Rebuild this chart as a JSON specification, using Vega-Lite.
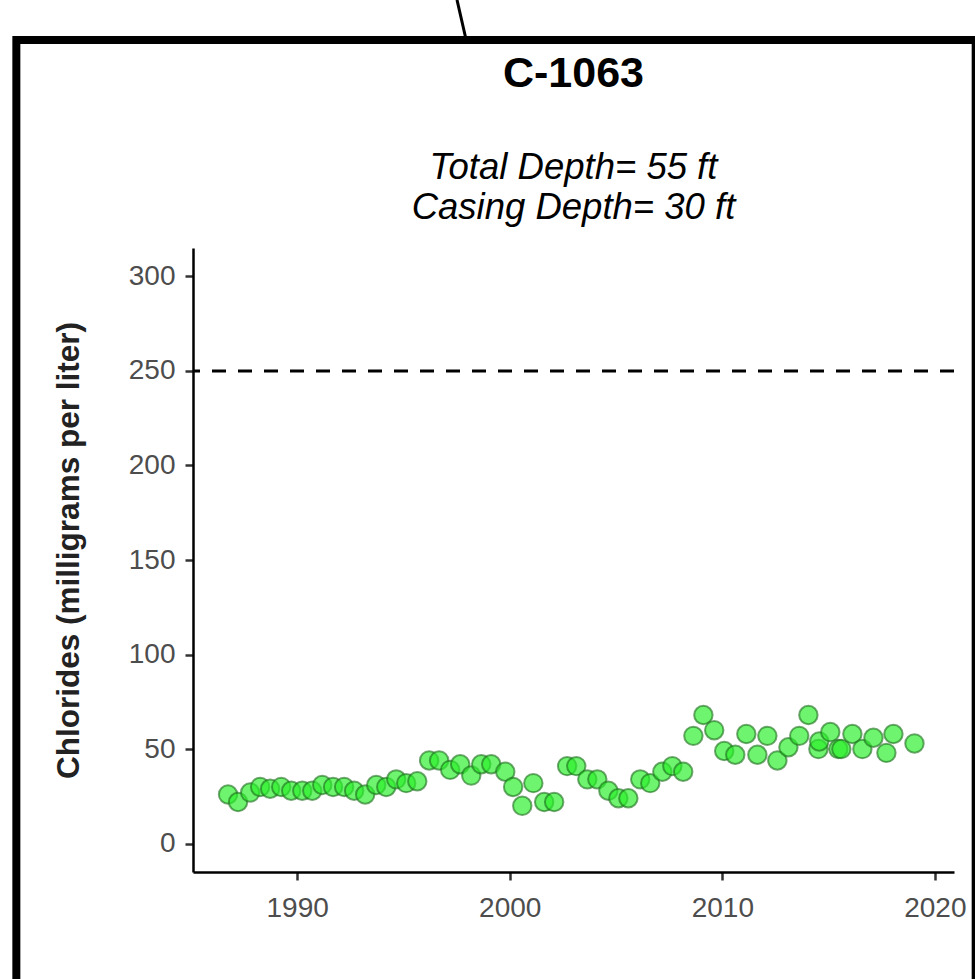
{
  "$schema": "https://vega.github.io/schema/vega-lite/v6.json",
  "width": 761,
  "height": 624,
  "autosize": {"type": "none"},
  "padding": {"left": 193, "top": 248, "right": 21, "bottom": 107},
  "background": "white",
  "config": {"view": {"stroke": null}, "font": "Liberation Sans"},
  "title": {
    "text": "C-1063",
    "subtitle": ["Total Depth= 55 ft", "Casing Depth= 30 ft"],
    "anchor": "middle",
    "frame": "group",
    "font": "Liberation Sans",
    "fontSize": 43,
    "fontWeight": "bold",
    "color": "black",
    "subtitleFont": "Liberation Sans",
    "subtitleFontSize": 36.5,
    "subtitleFontStyle": "italic",
    "subtitleColor": "black",
    "subtitleLineHeight": 40,
    "subtitlePadding": 54,
    "offset": -228
  },
  "datasets": {
    "samples": [
      {"year": 1986.75, "chloride": 26}, {"year": 1987.22, "chloride": 22}, {"year": 1987.79, "chloride": 27},
      {"year": 1988.26, "chloride": 30}, {"year": 1988.73, "chloride": 29}, {"year": 1989.25, "chloride": 30},
      {"year": 1989.72, "chloride": 28}, {"year": 1990.24, "chloride": 28}, {"year": 1990.71, "chloride": 28},
      {"year": 1991.18, "chloride": 31}, {"year": 1991.69, "chloride": 30}, {"year": 1992.21, "chloride": 30},
      {"year": 1992.68, "chloride": 28}, {"year": 1993.2, "chloride": 26}, {"year": 1993.72, "chloride": 31},
      {"year": 1994.19, "chloride": 30}, {"year": 1994.66, "chloride": 34}, {"year": 1995.13, "chloride": 32},
      {"year": 1995.65, "chloride": 33}, {"year": 1996.21, "chloride": 44}, {"year": 1996.68, "chloride": 44},
      {"year": 1997.2, "chloride": 39}, {"year": 1997.67, "chloride": 42}, {"year": 1998.19, "chloride": 36},
      {"year": 1998.66, "chloride": 42}, {"year": 1999.13, "chloride": 42}, {"year": 1999.79, "chloride": 38},
      {"year": 2000.16, "chloride": 30}, {"year": 2000.59, "chloride": 20}, {"year": 2001.11, "chloride": 32},
      {"year": 2001.62, "chloride": 22}, {"year": 2002.09, "chloride": 22}, {"year": 2002.7, "chloride": 41},
      {"year": 2003.13, "chloride": 41}, {"year": 2003.65, "chloride": 34}, {"year": 2004.12, "chloride": 34},
      {"year": 2004.64, "chloride": 28}, {"year": 2005.11, "chloride": 24}, {"year": 2005.58, "chloride": 24},
      {"year": 2006.14, "chloride": 34}, {"year": 2006.61, "chloride": 32}, {"year": 2007.18, "chloride": 38},
      {"year": 2007.65, "chloride": 41}, {"year": 2008.16, "chloride": 38}, {"year": 2008.64, "chloride": 57},
      {"year": 2009.11, "chloride": 68}, {"year": 2009.62, "chloride": 60}, {"year": 2010.09, "chloride": 49},
      {"year": 2010.61, "chloride": 47}, {"year": 2011.13, "chloride": 58}, {"year": 2011.65, "chloride": 47},
      {"year": 2012.12, "chloride": 57}, {"year": 2012.59, "chloride": 44}, {"year": 2013.11, "chloride": 51},
      {"year": 2013.62, "chloride": 57}, {"year": 2014.05, "chloride": 68}, {"year": 2014.52, "chloride": 50},
      {"year": 2014.56, "chloride": 54}, {"year": 2015.08, "chloride": 59}, {"year": 2015.46, "chloride": 50},
      {"year": 2015.6, "chloride": 50}, {"year": 2016.12, "chloride": 58}, {"year": 2016.59, "chloride": 50},
      {"year": 2017.11, "chloride": 56}, {"year": 2017.72, "chloride": 48}, {"year": 2018.05, "chloride": 58},
      {"year": 2019.04, "chloride": 53}
    ],
    "limit": [{"standard": 250}],
    "frame": [{"x1": 1976.79, "x2": 2021.92, "y1": 425.0, "y2": -90}],
    "pointer": [{"xa": 1997.52, "xb": 1997.95, "ya": 446.2, "yb": 425.0}]
  },
  "layer": [
    {
      "data": {"name": "limit"},
      "mark": {"type": "rule", "strokeDash": [14, 12], "strokeWidth": 3, "color": "black"},
      "encoding": {
        "y": {"field": "standard", "type": "quantitative"}
      }
    },
    {
      "data": {"name": "samples"},
      "mark": {"type": "point", "shape": "circle", "filled": true, "size": 340, "fill": "#2bef2b", "fillOpacity": 0.68, "stroke": "#1a6b1a", "strokeOpacity": 0.6, "strokeWidth": 2},
      "encoding": {
        "x": {
          "field": "year",
          "type": "quantitative",
          "scale": {"domain": [1985.1, 2020.9], "nice": false, "zero": false},
          "axis": {
            "title": null,
            "values": [1990, 2000, 2010, 2020],
            "format": "d",
            "grid": false,
            "labelFont": "Liberation Sans",
            "labelFontSize": 28,
            "labelColor": "#4d4d4d",
            "labelPadding": 14,
            "tickSize": 8,
            "tickWidth": 2.5,
            "tickColor": "#333333",
            "domainColor": "black",
            "domainWidth": 2.5
          }
        },
        "y": {
          "field": "chloride",
          "type": "quantitative",
          "scale": {"domain": [-15, 315], "nice": false, "zero": false},
          "axis": {
            "title": "Chlorides (milligrams per liter)",
            "titleFont": "Liberation Sans",
            "titleFontSize": 31.5,
            "titleFontWeight": "bold",
            "titleColor": "#222222",
            "titlePadding": 43,
            "titleY": 302,
            "values": [0, 50, 100, 150, 200, 250, 300],
            "grid": false,
            "labelFont": "Liberation Sans",
            "labelFontSize": 28,
            "labelColor": "#4d4d4d",
            "labelPadding": 10,
            "tickSize": 8,
            "tickWidth": 2.5,
            "tickColor": "#333333",
            "domainColor": "black",
            "domainWidth": 2.5
          }
        }
      }
    },
    {
      "data": {"name": "frame"},
      "mark": {"type": "rect", "filled": false, "stroke": "black", "strokeWidth": 8, "clip": false},
      "encoding": {
        "x": {"field": "x1", "type": "quantitative"},
        "x2": {"field": "x2"},
        "y": {"field": "y1", "type": "quantitative"},
        "y2": {"field": "y2"}
      }
    },
    {
      "data": {"name": "pointer"},
      "mark": {"type": "rule", "stroke": "black", "strokeWidth": 3, "clip": false},
      "encoding": {
        "x": {"field": "xa", "type": "quantitative"},
        "x2": {"field": "xb"},
        "y": {"field": "ya", "type": "quantitative"},
        "y2": {"field": "yb"}
      }
    }
  ]
}
